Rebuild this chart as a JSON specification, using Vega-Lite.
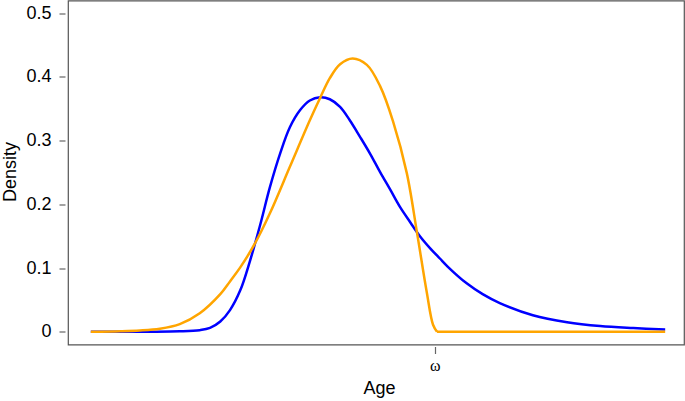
{
  "$schema": "https://vega.github.io/schema/vega-lite/v6.json",
  "width": 616,
  "height": 344,
  "autosize": {"type": "none"},
  "padding": {"left": 68, "top": 0.5, "right": 1, "bottom": 56.5},
  "background": "white",
  "config": {
    "view": {"stroke": "#555555", "strokeWidth": 1.2},
    "axis": {"grid": false, "domain": false, "tickColor": "#666666", "tickWidth": 1.2, "labelColor": "black", "titleColor": "black", "labelFont": "Liberation Sans", "titleFont": "Liberation Sans", "titleFontWeight": "normal"}
  },
  "data": {
    "values": [
      {"age": 0.0, "density": 0, "series": "Blue", "part": "b"},
      {"age": 5.0, "density": 0, "series": "Blue", "part": "b"},
      {"age": 10.4, "density": 0.0001, "series": "Blue", "part": "b"},
      {"age": 15.6, "density": 0.0007, "series": "Blue", "part": "b"},
      {"age": 19.1, "density": 0.0025, "series": "Blue", "part": "b"},
      {"age": 20.9, "density": 0.006, "series": "Blue", "part": "b"},
      {"age": 22.7, "density": 0.016, "series": "Blue", "part": "b"},
      {"age": 24.4, "density": 0.034, "series": "Blue", "part": "b"},
      {"age": 26.2, "density": 0.065, "series": "Blue", "part": "b"},
      {"age": 27.9, "density": 0.111, "series": "Blue", "part": "b"},
      {"age": 29.7, "density": 0.168, "series": "Blue", "part": "b"},
      {"age": 31.4, "density": 0.227, "series": "Blue", "part": "b"},
      {"age": 33.2, "density": 0.280, "series": "Blue", "part": "b"},
      {"age": 34.9, "density": 0.321, "series": "Blue", "part": "b"},
      {"age": 36.7, "density": 0.348, "series": "Blue", "part": "b"},
      {"age": 38.4, "density": 0.363, "series": "Blue", "part": "b"},
      {"age": 40.2, "density": 0.368, "series": "Blue", "part": "b"},
      {"age": 41.9, "density": 0.365, "series": "Blue", "part": "b"},
      {"age": 43.7, "density": 0.353, "series": "Blue", "part": "b"},
      {"age": 45.4, "density": 0.332, "series": "Blue", "part": "b"},
      {"age": 47.2, "density": 0.306, "series": "Blue", "part": "b"},
      {"age": 49.0, "density": 0.279, "series": "Blue", "part": "b"},
      {"age": 50.7, "density": 0.251, "series": "Blue", "part": "b"},
      {"age": 52.5, "density": 0.223, "series": "Blue", "part": "b"},
      {"age": 54.2, "density": 0.196, "series": "Blue", "part": "b"},
      {"age": 56.0, "density": 0.172, "series": "Blue", "part": "b"},
      {"age": 57.7, "density": 0.150, "series": "Blue", "part": "b"},
      {"age": 59.5, "density": 0.131, "series": "Blue", "part": "b"},
      {"age": 61.2, "density": 0.115, "series": "Blue", "part": "b"},
      {"age": 62.6, "density": 0.102, "series": "Blue", "part": "b"},
      {"age": 65.9, "density": 0.076, "series": "Blue", "part": "b"},
      {"age": 68.7, "density": 0.059, "series": "Blue", "part": "b"},
      {"age": 71.7, "density": 0.045, "series": "Blue", "part": "b"},
      {"age": 77.5, "density": 0.026, "series": "Blue", "part": "b"},
      {"age": 83.5, "density": 0.015, "series": "Blue", "part": "b"},
      {"age": 89.3, "density": 0.009, "series": "Blue", "part": "b"},
      {"age": 95.1, "density": 0.0058, "series": "Blue", "part": "b"},
      {"age": 100.7, "density": 0.0035, "series": "Blue", "part": "b"},
      {"age": 0.0, "density": 0, "series": "Orange", "part": "o1"},
      {"age": 5.2, "density": 0.0008, "series": "Orange", "part": "o1"},
      {"age": 8.6, "density": 0.002, "series": "Orange", "part": "o1"},
      {"age": 12.1, "density": 0.0048, "series": "Orange", "part": "o1"},
      {"age": 15.6, "density": 0.012, "series": "Orange", "part": "o1"},
      {"age": 19.1, "density": 0.029, "series": "Orange", "part": "o1"},
      {"age": 22.7, "density": 0.059, "series": "Orange", "part": "o1"},
      {"age": 24.4, "density": 0.079, "series": "Orange", "part": "o1"},
      {"age": 26.2, "density": 0.101, "series": "Orange", "part": "o1"},
      {"age": 28.8, "density": 0.139, "series": "Orange", "part": "o1"},
      {"age": 31.4, "density": 0.186, "series": "Orange", "part": "o1"},
      {"age": 34.9, "density": 0.259, "series": "Orange", "part": "o1"},
      {"age": 38.4, "density": 0.332, "series": "Orange", "part": "o1"},
      {"age": 40.2, "density": 0.367, "series": "Orange", "part": "o1"},
      {"age": 41.9, "density": 0.398, "series": "Orange", "part": "o1"},
      {"age": 43.7, "density": 0.420, "series": "Orange", "part": "o1"},
      {"age": 45.9, "density": 0.429, "series": "Orange", "part": "o1"},
      {"age": 48.4, "density": 0.419, "series": "Orange", "part": "o1"},
      {"age": 50.7, "density": 0.386, "series": "Orange", "part": "o1"},
      {"age": 53.0, "density": 0.330, "series": "Orange", "part": "o1"},
      {"age": 55.4, "density": 0.249, "series": "Orange", "part": "o1"},
      {"age": 57.2, "density": 0.155, "series": "Orange", "part": "o1"},
      {"age": 58.9, "density": 0.062, "series": "Orange", "part": "o1"},
      {"age": 60.0, "density": 0.011, "series": "Orange", "part": "o1"},
      {"age": 60.7, "density": 0, "series": "Orange", "part": "o1"},
      {"age": 60.7, "density": 0, "series": "Orange", "part": "o2"},
      {"age": 100.7, "density": 0, "series": "Orange", "part": "o2"}
    ]
  },
  "mark": {"type": "line", "strokeWidth": 2.5, "interpolate": "catmull-rom", "clip": true},
  "encoding": {
    "x": {
      "field": "age", "type": "quantitative",
      "scale": {"domain": [-4, 104], "nice": false, "zero": false},
      "axis": {"values": [60.3], "labelExpr": "'ω'", "title": "Age", "offset": 2, "tickSize": 7, "labelPadding": 4, "labelFont": "Liberation Serif", "labelFontSize": 16, "titleFontSize": 18, "titleX": 311, "titleY": 42, "titleBaseline": "middle", "titleAnchor": "middle"}
    },
    "y": {
      "field": "density", "type": "quantitative",
      "scale": {"domain": [-0.02, 0.52], "nice": false, "zero": false},
      "axis": {"values": [0, 0.1, 0.2, 0.3, 0.4, 0.5], "labelExpr": "datum.value == 0 ? '0' : format(datum.value, '.1f')", "title": "Density", "offset": 3, "tickSize": 6, "labelPadding": 8, "labelFontSize": 18, "titleFontSize": 18, "titleX": -55, "titleY": 171, "titleBaseline": "middle", "titleAngle": -90, "titleAnchor": "middle"}
    },
    "color": {
      "field": "series", "type": "nominal",
      "scale": {"domain": ["Blue", "Orange"], "range": ["#0000FF", "#FFA500"]},
      "legend": null
    },
    "detail": {"field": "part", "type": "nominal"}
  }
}
